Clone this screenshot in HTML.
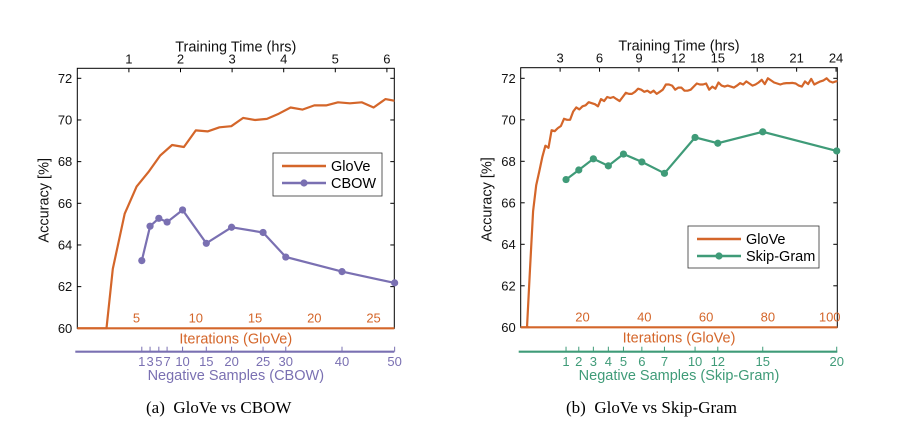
<!DOCTYPE html>
<html><head><meta charset="utf-8"><style>
body{margin:0;background:#fff;}
svg{display:block;font-family:"Liberation Sans",sans-serif;}
.cap{font-family:"Liberation Serif",serif;font-size:17px;fill:#000;}
</style></head><body>
<svg id="fig" width="912" height="425" viewBox="0 0 912 425" xmlns="http://www.w3.org/2000/svg">
<text class="cap" x="146" y="413">(a)&#160; GloVe vs CBOW</text>
<text class="cap" x="566" y="413">(b)&#160; GloVe vs Skip-Gram</text>
</svg>
<script>
// ---- data: panel a ----
const yTicks = [60,62,64,66,68,70,72];
const aHourTicks = [1,2,3,4,5,6];
const aIterTicks = [5,10,15,20,25];
const aGloveIter = [2,3,4,5,6,7,8,9,10,11,12,13,14,15,16,17,18,19,20,21,22,23,24,25,26,27];
const aGloveAcc = [57.5,62.85,65.5,66.8,67.5,68.3,68.8,68.7,69.5,69.45,69.65,69.7,70.1,70.0,70.05,70.3,70.6,70.5,70.7,70.7,70.85,70.8,70.85,70.6,71.0,70.9];
const aNegLabels = ["1","3","5","7","10","15","20","25","30","40","50"];
const aNegHours = [1.25,1.41,1.58,1.74,2.04,2.50,2.99,3.60,4.04,5.13,6.15];
const aCbowAcc = [63.25,64.9,65.28,65.1,65.68,64.08,64.85,64.6,63.42,62.72,62.18];
// ---- data: panel b ----
const bHourTicks = [3,6,9,12,15,18,21,24];
const bIterTicks = [20,40,60,80,100];
const bGloveAcc = [55,58,62.8,65.6,66.85,67.5,68.2,68.75,68.65,69.5,69.45,69.6,69.7,70.05,70.0,70.0,70.4,70.6,70.5,70.65,70.7,70.85,70.8,70.75,70.65,71.0,70.9,71.1,71.05,71.1,71.0,70.9,71.1,71.3,71.25,71.25,71.35,71.5,71.45,71.35,71.4,71.3,71.4,71.25,71.35,71.45,71.7,71.7,71.65,71.45,71.55,71.55,71.4,71.4,71.45,71.6,71.75,71.7,71.7,71.75,71.45,71.6,71.5,71.8,71.65,71.6,71.65,71.6,71.55,71.65,71.77,71.7,71.85,71.75,71.65,71.7,71.8,71.93,71.72,72.0,71.9,71.8,71.75,71.7,71.75,71.77,71.77,71.78,71.75,71.65,71.6,71.85,71.72,71.97,71.7,71.78,71.85,71.9,72.0,71.85,71.8,71.85,71.87];
const bNegLabels = ["1","2","3","4","5","6","7","10","12","15","20"];
const bNegHours = [3.45,4.42,5.53,6.67,7.82,9.22,10.94,13.27,15.0,18.42,24.05];
const bSkipAcc = [67.12,67.58,68.12,67.78,68.35,67.97,67.42,69.15,68.87,69.42,68.5];

const NS="http://www.w3.org/2000/svg";
const svg=document.getElementById('fig');
const OR="#d4662a", PU="#7a70b2", GR="#3f9b78";
function mk(tag,attrs,parent){const e=document.createElementNS(NS,tag);for(const k in attrs)e.setAttribute(k,attrs[k]);(parent||svg).appendChild(e);return e;}
function txt(s,attrs,parent){const e=mk('text',attrs,parent);e.textContent=s;return e;}

function panel(o){
  const g=mk('g',{});
  
  
  const L=o.L,R=o.R,T=o.T,B=o.B;
  const y=v=>B-(v-60)*(B-78.3)/12;
  const xh=h=>L+h*o.pxHr;
  const xi=i=>L+i*o.pxIt;
  const cid='clip-'+o.id;
  const cp=mk('clipPath',{id:cid},g);mk('rect',{x:L,y:T,width:R-L,height:B-T+1},cp);
  const fr=mk('rect',{x:L,y:T,width:R-L,height:B-T,fill:'none',stroke:'#000','stroke-width':1},g);
  
  yTicks.forEach(v=>{
    mk('line',{x1:L,x2:L+4,y1:y(v),y2:y(v),stroke:'#000'},g);
    mk('line',{x1:R,x2:R-4,y1:y(v),y2:y(v),stroke:'#000'},g);
    const t=txt(String(v),{x:L-5,y:y(v)+4.5,'text-anchor':'end','font-size':13,fill:'#111'},g);
    
  });
  const yt=txt('Accuracy [%]',{transform:`translate(${L-29},${(T+B)/2+2}) rotate(-90)`,'text-anchor':'middle','font-size':14.5,fill:'#111'},g);
  
  o.hourTicks.forEach(h=>{
    mk('line',{x1:xh(h),x2:xh(h),y1:T,y2:T+4,stroke:'#000'},g);
    const t=txt(String(h),{x:xh(h),y:T-5,'text-anchor':'middle','font-size':13,fill:'#111'},g);
    
  });
  const tt=txt('Training Time (hrs)',{x:(L+R)/2,y:T-17,'text-anchor':'middle','font-size':14.5,fill:'#111'},g);
  
  let d='';
  o.gloveIter.forEach((it,i)=>{d+=(i?'L':'M')+xi(it).toFixed(1)+','+y(Math.max(o.gloveAcc[i],59.9)).toFixed(1);});
  d='M'+L+','+y(60)+'L'+xi(o.gloveIter[0]+ (60-o.gloveAcc[0])/(o.gloveAcc[1]-o.gloveAcc[0])*(o.gloveIter[1]-o.gloveIter[0])).toFixed(1)+','+y(60)+d.replace(/^M[^L]*/,'');
  const gl=mk('path',{d:d,fill:'none',stroke:OR,'stroke-width':2.2,'clip-path':`url(#${cid})`,'stroke-linejoin':'round'},g);
  
  mk('line',{x1:L,x2:R,y1:B,y2:B,stroke:OR,'stroke-width':2.2},g);
  o.iterTicks.forEach(it=>{
    const t=txt(String(it),{x:xi(it),y:B-6,'text-anchor':'middle','font-size':13,fill:OR},g);
    
  });
  const it2=txt('Iterations (GloVe)',{x:(L+R)/2,y:B+15,'text-anchor':'middle','font-size':14.5,fill:OR},g);
  
  const NY=351.7;
  mk('line',{x1:L-2,x2:R,y1:NY,y2:NY,stroke:o.col,'stroke-width':2.2},g);
  o.negHours.forEach((h,i)=>{
    mk('line',{x1:xh(h),x2:xh(h),y1:NY,y2:NY-5,stroke:o.col},g);
    const t=txt(o.negLabels[i],{x:xh(h),y:366,'text-anchor':'middle','font-size':13,fill:o.col},g);
    
  });
  const nt=txt(`Negative Samples (${o.name})`,{x:(L+R)/2,y:380,'text-anchor':'middle','font-size':14.5,fill:o.col},g);
  
  let d2='';
  o.negHours.forEach((h,i)=>{d2+=(i?'L':'M')+xh(h).toFixed(1)+','+y(o.acc[i]).toFixed(1);});
  const sl=mk('path',{d:d2,fill:'none',stroke:o.col,'stroke-width':2.2},g);
  
  o.negHours.forEach((h,i)=>{
    const c=mk('circle',{cx:xh(h),cy:y(o.acc[i]),r:3.6,fill:o.col},g);
    
  });
  const lg=mk('g',{},g);
  
  const [lx,ly,lw,lh]=o.leg;
  mk('rect',{x:lx,y:ly,width:lw,height:lh,fill:'#fff',stroke:'#333','stroke-width':0.8},lg);
  mk('line',{x1:lx+9,x2:lx+53,y1:ly+13,y2:ly+13,stroke:OR,'stroke-width':2.5},lg);
  const e1=txt('GloVe',{x:lx+58,y:ly+18,'font-size':14.5,fill:'#000'},lg);
  
  mk('line',{x1:lx+9,x2:lx+53,y1:ly+30,y2:ly+30,stroke:o.col,'stroke-width':2.5},lg);
  mk('circle',{cx:lx+31,cy:ly+30,r:3.6,fill:o.col},lg);
  const e2=txt(o.name,{x:lx+58,y:ly+35,'font-size':14.5,fill:'#000'},lg);
  
}
panel({id:'cbow',name:'CBOW',col:PU,L:77.3,R:394.3,T:68.3,B:328.3,pxHr:51.6,pxIt:11.85,
  hourTicks:aHourTicks,iterTicks:aIterTicks,gloveIter:aGloveIter,gloveAcc:aGloveAcc,
  negHours:aNegHours,negLabels:aNegLabels,acc:aCbowAcc,leg:[273,153,109,43]});
panel({id:'skipgram',name:'Skip-Gram',col:GR,L:520.7,R:837.3,T:67.7,B:327.3,pxHr:13.14,pxIt:3.09,
  hourTicks:bHourTicks,iterTicks:bIterTicks,gloveIter:bGloveAcc.map((v,i)=>i+1),gloveAcc:bGloveAcc,
  negHours:bNegHours,negLabels:bNegLabels,acc:bSkipAcc,leg:[688,226,131,42]});
</script>
</body></html>
